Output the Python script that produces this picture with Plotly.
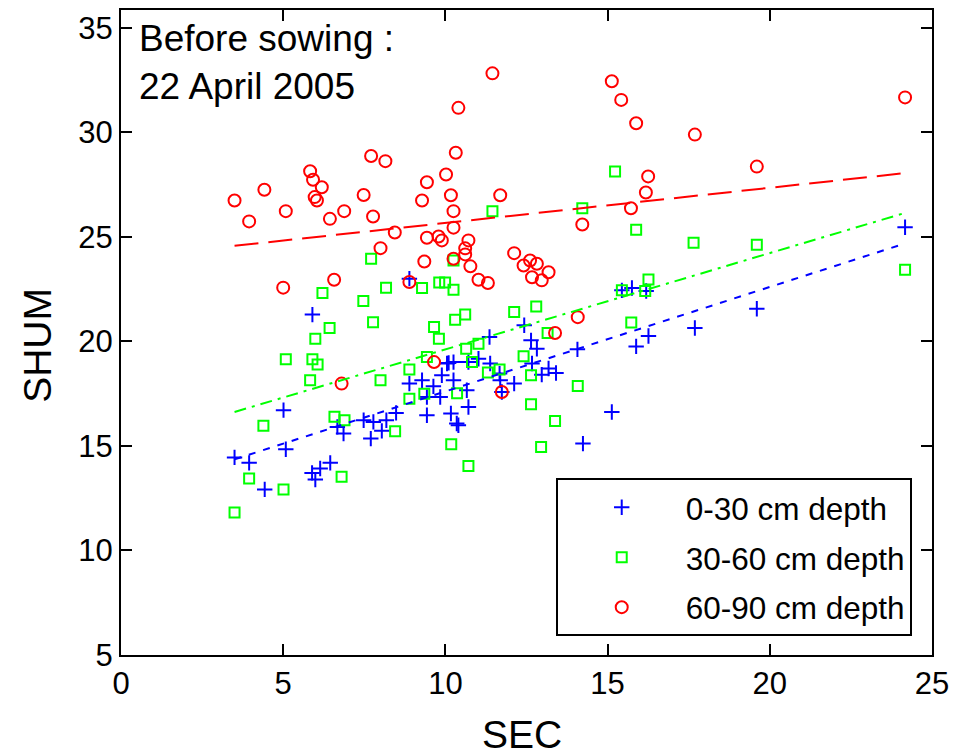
import numpy as np
import plotly.graph_objects as go

# ---- data ----
sec_0_30 = [3.50, 3.95, 4.43, 5.01, 5.08, 5.90, 5.89, 5.99, 6.14, 6.45, 6.67, 6.86, 7.48, 7.70,
            7.78, 8.04, 8.18, 8.48, 8.89, 8.89, 9.28, 9.43, 9.43, 9.63, 9.84, 9.89, 10.10, 10.25,
            10.17, 10.35, 10.40, 10.25, 10.05, 10.66, 10.71, 11.02, 11.38, 11.36, 10.71, 11.67,
            11.69, 12.12, 11.74, 12.43, 12.64, 12.82, 12.67, 12.97, 13.18, 13.41, 14.07, 14.24,
            15.13, 15.44, 15.75, 16.19, 15.88, 16.26, 17.69, 19.60, 24.17]
shum_0_30 = [14.45, 14.19, 12.92, 16.71, 14.84, 21.28, 13.71, 13.39, 13.92, 14.19, 15.91, 15.59,
             16.23, 15.35, 16.15, 15.72, 16.23, 16.58, 17.98, 23.00, 18.14, 17.34, 16.47, 17.85,
             17.34, 18.38, 18.97, 18.14, 16.55, 16.07, 15.99, 19.01, 18.94, 17.66, 19.01, 19.17,
             18.94, 20.21, 16.86, 18.46, 18.14, 17.98, 17.58, 20.77, 20.05, 19.65, 18.94, 18.41,
             18.70, 18.49, 19.62, 15.11, 16.62, 22.44, 22.55, 22.41, 19.76, 20.26, 20.64, 21.56,
             25.46]

sec_30_60 = [3.50, 3.95, 5.01, 4.39, 5.08, 5.90, 6.06, 5.83, 6.21, 6.43, 5.99, 7.47, 7.77, 8.17,
             7.71, 6.80, 6.58, 6.89, 8.00, 8.45, 8.89, 8.89, 9.35, 9.43, 9.28, 9.65, 9.80, 9.81,
             9.99, 10.25, 10.30, 10.25, 10.18, 10.36, 10.61, 10.64, 10.82, 11.02, 10.71, 11.31,
             11.67, 11.45, 12.12, 12.80, 12.41, 12.64, 12.64, 12.95, 13.15, 13.38, 14.08, 14.22,
             15.23, 15.44, 16.16, 16.26, 15.73, 15.88, 17.65, 19.60, 24.17]
shum_30_60 = [11.82, 13.44, 12.92, 15.96, 19.14, 19.14, 18.90, 18.14, 22.31, 20.64, 20.13, 21.93,
              20.91, 22.57, 23.95, 13.52, 16.39, 16.23, 18.14, 15.70, 18.65, 17.26, 17.50, 19.25,
              22.55, 20.69, 20.13, 22.82, 22.82, 22.47, 21.04, 23.87, 15.08, 17.52, 21.29, 19.65,
              19.01, 19.89, 14.04, 18.51, 18.65, 26.23, 21.40, 21.67, 19.29, 18.38, 16.99, 14.95,
              20.40, 16.19, 17.87, 26.37, 28.12, 22.44, 22.41, 22.96, 20.90, 25.34, 24.72, 24.62,
              23.43]

sec_60_90 = [3.50, 3.95, 4.42, 5.08, 5.00, 5.83, 5.92, 6.19, 5.97, 6.04, 6.44, 6.88, 6.57, 6.80,
             7.48, 7.71, 8.15, 7.77, 8.44, 8.00, 8.89, 9.35, 9.43, 9.28, 10.02, 10.17, 10.25,
             10.25, 9.43, 9.79, 9.89, 10.25, 9.65, 10.40, 10.32, 10.71, 11.69, 11.45, 10.61,
             10.61, 10.77, 11.02, 11.31, 12.12, 12.41, 12.61, 12.82, 12.67, 12.97, 13.18, 11.74,
             13.38, 14.08, 14.22, 15.13, 15.42, 15.88, 16.25, 16.18, 15.72, 17.69, 19.60, 24.17]
shum_60_90 = [26.74, 25.74, 27.25, 26.23, 22.57, 28.14, 27.73, 27.37, 26.90, 26.74, 25.86, 26.23,
              22.95, 17.98, 27.00, 28.87, 28.62, 25.97, 25.21, 24.46, 22.84, 23.82, 27.61, 26.74,
              27.98, 26.99, 26.23, 25.44, 24.96, 25.02, 24.83, 23.95, 19.01, 31.17, 29.02, 24.83,
              26.99, 32.82, 24.45, 24.16, 23.59, 22.95, 22.79, 24.22, 23.63, 23.87, 23.71, 23.07,
              22.92, 23.31, 17.58, 20.40, 21.16, 25.59, 32.44, 31.55, 30.43, 27.89, 27.12, 26.37,
              29.89, 28.36, 31.67]

series_names = ["0-30 cm depth", "30-60 cm depth", "60-90 cm depth"]
x_ticks = [0, 5, 10, 15, 20, 25]
y_ticks = [5, 10, 15, 20, 25, 30, 35]

FONT = "Liberation Sans, Arial, sans-serif"
BLUE, GREEN, RED = "#0000ff", "#00ff00", "#ff0000"

fig = go.Figure()

series = [
    (sec_0_30, shum_0_30, series_names[0], BLUE, "cross-thin-open", 11, "7px,8px"),
    (sec_30_60, shum_30_60, series_names[1], GREEN, "square-open", 10, "12px,6px,3px,6px"),
    (sec_60_90, shum_60_90, series_names[2], RED, "circle-open", 12, "24px,10px"),
]

for xs, ys, name, col, sym, size, dash in series:
    fig.add_trace(go.Scatter(
        x=xs, y=ys, mode="markers", name=name, legendgroup=name,
        marker=dict(symbol=sym, size=size, color=col, line=dict(color=col, width=2)),
    ))

# least-squares trend line of each depth layer
for xs, ys, name, col, sym, size, dash in series:
    xa = np.array(xs)
    ya = np.array(ys)
    k, b = np.polyfit(xa, ya, 1)
    xl = np.array([xa.min(), xa.max()])
    fig.add_trace(go.Scatter(
        x=xl, y=k * xl + b, mode="lines", showlegend=False, hoverinfo="skip",
        line=dict(color=col, width=2, dash=dash),
    ))

fig.add_annotation(
    xref="paper", yref="paper", x=0.02, y=0.99, xanchor="left", yanchor="top",
    text="Before sowing :<br>22 April 2005", showarrow=False, align="left",
    font=dict(family=FONT, size=37, color="black"),
)
# axis titles
fig.add_annotation(
    xref="paper", yref="paper", x=0.494, y=-0.124, xanchor="center", yanchor="middle",
    text="SEC", showarrow=False, font=dict(family=FONT, size=39, color="black"),
)
fig.add_annotation(
    xref="paper", yref="paper", x=-0.103, y=0.48, xanchor="center", yanchor="middle",
    text="SHUM", textangle=-90, showarrow=False, font=dict(family=FONT, size=39, color="black"),
)

axis_common = dict(
    showline=True, linecolor="black", linewidth=2, mirror="ticks",
    ticks="inside", ticklen=11, tickwidth=2, tickcolor="black",
    showgrid=False, zeroline=False,
    tickfont=dict(family=FONT, size=31, color="black"),
)

fig.update_xaxes(range=[0, 25], tickvals=x_ticks, **axis_common)
fig.update_yaxes(range=[5, 35.85], tickvals=y_ticks, **axis_common)

fig.update_layout(
    width=965, height=755,
    margin=dict(l=113, r=41, t=2, b=108, autoexpand=False),
    plot_bgcolor="white", paper_bgcolor="white",
    legend=dict(
        x=0.975, y=0.029, xanchor="right", yanchor="bottom",
        bgcolor="white", bordercolor="black", borderwidth=2,
        font=dict(family=FONT, size=31.5, color="black"),
        itemwidth=118, tracegroupgap=6,
    ),
)

fig.write_html("out.html")
